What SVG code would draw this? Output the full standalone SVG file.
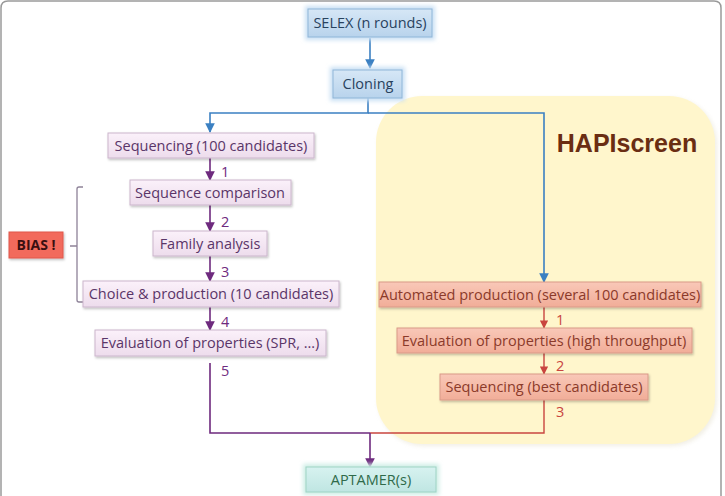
<svg xmlns="http://www.w3.org/2000/svg" width="725" height="496" viewBox="0 0 725 496">
<defs>
<linearGradient id="gP" x1="0" y1="0" x2="0" y2="1"><stop offset="0" stop-color="#fbf1fa"/><stop offset="1" stop-color="#eddcec"/></linearGradient>
<linearGradient id="gB" x1="0" y1="0" x2="0" y2="1"><stop offset="0" stop-color="#d6e7f6"/><stop offset="1" stop-color="#b8d3ec"/></linearGradient>
<linearGradient id="gR" x1="0" y1="0" x2="0" y2="1"><stop offset="0" stop-color="#f9c8b8"/><stop offset="1" stop-color="#f1ad98"/></linearGradient>
<linearGradient id="gG" x1="0" y1="0" x2="0" y2="1"><stop offset="0" stop-color="#d7f2f0"/><stop offset="1" stop-color="#bfe6e2"/></linearGradient>
<filter id="sh" x="-10%" y="-20%" width="120%" height="150%"><feDropShadow dx="1" dy="1.5" stdDeviation="1.2" flood-color="#000" flood-opacity="0.25"/></filter>
<filter id="glow" x="-10%" y="-30%" width="120%" height="160%"><feGaussianBlur stdDeviation="2"/></filter>
<marker id="aB" viewBox="0 0 10 10" refX="9" refY="5" markerWidth="6" markerHeight="6" orient="auto"><path d="M0,0L10,5L0,10z" fill="#3b80c2"/></marker>
<marker id="aP" viewBox="0 0 10 10" refX="9" refY="5" markerWidth="6" markerHeight="6" orient="auto"><path d="M0,0L10,5L0,10z" fill="#6e2a7e"/></marker>
<marker id="aR" viewBox="0 0 10 10" refX="9" refY="5" markerWidth="6" markerHeight="6" orient="auto"><path d="M0,0L10,5L0,10z" fill="#c9453f"/></marker>
</defs>
<style>
text{font-family:"Open Sans","Liberation Sans",sans-serif;font-size:14.5px;text-anchor:middle}
.p rect{fill:url(#gP);stroke:#cbb6cc;stroke-width:1;filter:url(#sh)}
.p text{fill:#5a3568}
.b rect.g{fill:#c9e0f4;filter:url(#glow)}
.b rect.m{fill:url(#gB);stroke:#8fb6d8;stroke-width:1}
.b text{fill:#28425e}
.r rect{fill:url(#gR);stroke:#d99a88;stroke-width:1;filter:url(#sh)}
.r text{fill:#8b3a2a}
.lbl{font-size:14.5px;text-anchor:start}
.lp{fill:#6e2a7e}
.lr{fill:#c9453f}
.cb{fill:none;stroke:#3b80c2;stroke-width:1.6}
.cp{fill:none;stroke:#6e2a7e;stroke-width:1.6}
.cr{fill:none;stroke:#c9453f;stroke-width:1.4}
</style>
<rect width="725" height="496" fill="#ffffff"/>
<path d="M1,496V8Q1,1 8,1H714Q721,1 721,8V496" fill="none" stroke="#9a9a9a" stroke-width="1.5"/>
<g id="hapiscreen">
<rect x="378" y="98" width="339" height="348" rx="46" fill="#e8e4d4" filter="url(#glow)" opacity="0.6"/>
<rect x="376" y="96" width="339" height="348" rx="46" fill="#fff6cc"/>
<text x="627" y="152" style="font-family:'Liberation Sans',Arial,sans-serif;font-weight:bold;font-size:25px;fill:#6a2d12">HAPIscreen</text>
</g>
<g id="connectors">
<line class="cb" x1="370" y1="38" x2="370" y2="68" marker-end="url(#aB)"/>
<path class="cb" d="M368,98V113H210V132" marker-end="url(#aB)"/>
<path class="cb" d="M368,113H544V282" marker-end="url(#aB)"/>
<line class="cp" x1="210" y1="158" x2="210" y2="180" marker-end="url(#aP)"/>
<line class="cp" x1="210" y1="205" x2="210" y2="231" marker-end="url(#aP)"/>
<line class="cp" x1="210" y1="256" x2="210" y2="281" marker-end="url(#aP)"/>
<line class="cp" x1="210" y1="307" x2="210" y2="330" marker-end="url(#aP)"/>
<path class="cp" d="M210,363V433H370"/>
<path class="cr" d="M370,433H544V400"/>
<line class="cp" x1="370" y1="433" x2="370" y2="467" marker-end="url(#aP)"/>
<line class="cr" x1="544" y1="307" x2="544" y2="328" marker-end="url(#aR)"/>
<line class="cr" x1="544" y1="353" x2="544" y2="374" marker-end="url(#aR)"/>
<path d="M83,187H79Q77,187 77,189V300Q77,302 79,302H83M77,246H70" fill="none" stroke="#8e8298" stroke-width="1.3"/>
<text class="lbl lp" x="221" y="177">1</text>
<text class="lbl lp" x="221" y="227">2</text>
<text class="lbl lp" x="221" y="277">3</text>
<text class="lbl lp" x="221" y="327">4</text>
<text class="lbl lp" x="221" y="376">5</text>
<text class="lbl lr" x="556" y="325">1</text>
<text class="lbl lr" x="556" y="371">2</text>
<text class="lbl lr" x="556" y="417">3</text>
</g>
<g id="selex" class="b"><rect class="g" x="305" y="6" width="130" height="34"/><rect class="m" x="308" y="9" width="124" height="28"/><text x="370" y="28">SELEX (n rounds)</text></g>
<g id="cloning" class="b"><rect class="g" x="330" y="67" width="75" height="34"/><rect class="m" x="333" y="70" width="69" height="28"/><text x="368" y="89">Cloning</text></g>
<g id="seq100" class="p"><rect x="108" y="133" width="206" height="25"/><text x="211" y="151">Sequencing (100 candidates)</text></g>
<g id="seqcomp" class="p"><rect x="130" y="180" width="161" height="25"/><text x="210" y="198">Sequence comparison</text></g>
<g id="family" class="p"><rect x="153" y="231" width="114" height="25"/><text x="210" y="249">Family analysis</text></g>
<g id="choice" class="p"><rect x="83" y="281" width="256" height="26"/><text x="211" y="299">Choice &amp; production (10 candidates)</text></g>
<g id="evalspr" class="p"><rect x="95" y="330" width="231" height="26"/><text x="210" y="348">Evaluation of properties (SPR, …)</text></g>
<g id="bias"><rect x="9" y="232" width="54" height="26" fill="#f26b5b" stroke="#e0594a" filter="url(#sh)"/><text x="36" y="250" style="font-weight:bold;font-size:14px;fill:#3a1010">BIAS !</text></g>
<g id="autoprod" class="r"><rect x="379" y="282" width="322" height="25"/><text x="540" y="300">Automated production (several 100 candidates)</text></g>
<g id="evalht" class="r"><rect x="397" y="328" width="295" height="25"/><text x="544" y="346">Evaluation of properties (high throughput)</text></g>
<g id="seqbest" class="r"><rect x="440" y="374" width="208" height="26"/><text x="544" y="392">Sequencing (best candidates)</text></g>
<g id="aptamer"><rect x="303" y="464" width="136" height="31" fill="#cdeee6" filter="url(#glow)"/><rect x="306" y="467" width="130" height="25" fill="url(#gG)" stroke="#9fd3c4"/><text x="371" y="485" style="fill:#2f6a4a">APTAMER(s)</text></g>
</svg>
